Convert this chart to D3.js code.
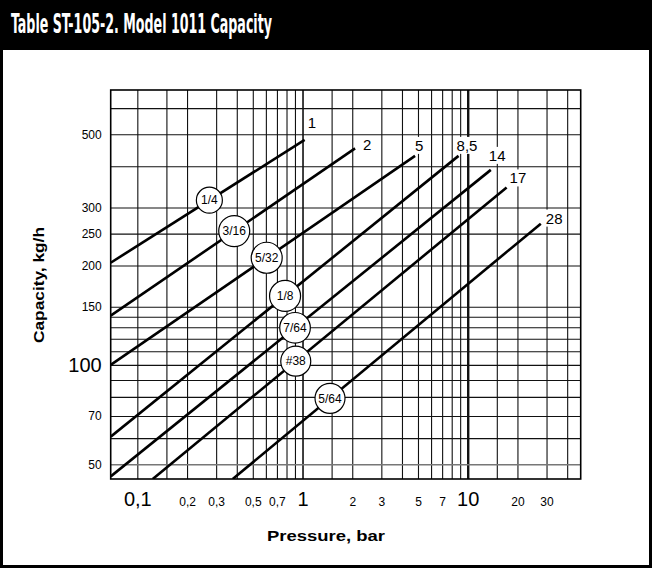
<!DOCTYPE html>
<html>
<head>
<meta charset="utf-8">
<script src="https://cdn.jsdelivr.net/npm/d3@7"></script>
<style>
    body { margin: 0; background: #fff; }
    svg text { font-family: "Liberation Sans", Arial, Helvetica, sans-serif; }
    .grid path, .axis path, .axis line { display: none; }
    .grid line { stroke: #111; stroke-width: 1.1; }
    .grid line.major { stroke-width: 2.4; }
    .grid line.mid { stroke-width: 1.6; }
    .grid line.soft { stroke: #777; stroke-width: 1.6; }
    .flow { fill: none; stroke: #000; stroke-width: 2.6; }
</style>
</head>
<body>
<div id="chart"></div>
<script>
// orifice sizes (badges) and max pressure (line end labels)
var sizes = ["1/4", "3/16", "5/32", "1/8", "7/64", "#38", "5/64"];
var maxPressure = ["1", "2", "5", "8,5", "14", "17", "28"];

// line endpoints (bar, kg/h)
var startPressure = [0.069, 0.069, 0.069, 0.069, 0.069, 0.124, 0.378];
var startCapacity = [204, 141, 100, 60.6, 45.9, 45.1, 45.1];
var endPressure = [1.03, 2.08, 4.8, 8.8, 13.8, 17.2, 27.7];
var endCapacity = [481, 453, 430, 430, 390, 345, 268];
// where the size badge sits along each line
var badgePressure = [0.273, 0.386, 0.607, 0.784, 0.901, 0.91, 1.467];

var xTicks = [0.1, 0.2, 0.3, 0.5, 0.7, 1, 2, 3, 5, 7, 10, 20, 30];
var xBigTicks = [0.1, 1, 10];
var yTicks = [50, 70, 100, 150, 200, 250, 300, 500];
var yBigTicks = [100];
var xGrid = [0.1, 0.15, 0.2, 0.3, 0.4, 0.5, 0.6, 0.7, 0.8, 0.9, 1, 1.5, 2, 3, 4, 5, 6, 7, 8, 9, 10, 15, 20, 30, 40];
var yGrid = [50, 60, 70, 80, 90, 100, 110, 120, 130, 140, 150, 200, 250, 300, 400, 500, 600];

// layout only: nudges for end labels, badge radius
var labelNudge = [[3, -12], [8, 2], [0, -5], [-2, -5], [-2, -9], [3, -4], [5, 0]];
var badgeR = [13, 15.5, 15.5, 15.5, 15.3, 15, 15];

var W = 652, H = 570;
var margin = {top: 90, left: 110.7},
    width = 470,
    height = 389;

var svg = d3.select("#chart").append("svg")
    .attr("width", W)
    .attr("height", H);

// frame + title bar
svg.append("rect")
    .attr("x", 0).attr("y", 0)
    .attr("width", W).attr("height", 50)
    .attr("fill", "#000");
svg.append("rect")
    .attr("x", 1.5).attr("y", 1.5)
    .attr("width", 649).attr("height", 565)
    .attr("fill", "none")
    .attr("stroke", "#000")
    .attr("stroke-width", 3);
svg.append("text")
    .attr("x", 11)
    .attr("y", 33)
    .attr("fill", "#fff")
    .attr("font-weight", "bold")
    .attr("font-size", 26)
    .attr("textLength", 261)
    .attr("lengthAdjust", "spacingAndGlyphs")
    .style("font-family", "'Liberation Sans Narrow', 'DejaVu Sans Condensed', Arial, sans-serif")
    .text("Table ST-105-2. Model 1011 Capacity");

var x = d3.scaleLog().domain([0.069, 48.3]).range([0, width]);
var y = d3.scaleLog().domain([45.1, 681]).range([height, 0]);

var g = svg.append("g")
    .attr("transform", "translate(" + margin.left + "," + margin.top + ")");

// grid
g.append("g")
    .attr("class", "grid grid--x")
    .attr("transform", "translate(0," + height + ")")
    .call(d3.axisBottom(x).tickValues(xGrid).tickSizeInner(-height).tickSizeOuter(0).tickFormat(""))
    .selectAll("line")
    .attr("class", function (d) {
        return d === 10 ? "major" : (d === 1 ? "mid" : null);
    });

g.append("g")
    .attr("class", "grid grid--y")
    .call(d3.axisLeft(y).tickValues(yGrid).tickSizeInner(-width).tickSizeOuter(0).tickFormat(""))
    .selectAll("line")
    .attr("class", function (d) {
        return d === 50 ? "soft" : null;
    });

g.append("rect")
    .attr("width", width)
    .attr("height", height)
    .attr("fill", "none")
    .attr("stroke", "#000")
    .attr("stroke-width", 1.6);

// tick labels
g.append("g")
    .attr("class", "axis axis--x")
    .attr("transform", "translate(0," + height + ")")
    .call(d3.axisBottom(x).tickValues(xTicks).tickSize(0).tickFormat(function (d) {
        return String(d).replace(".", ",");
    }))
    .selectAll("text")
    .attr("y", 27)
    .attr("dy", 0)
    .attr("fill", "#000")
    .attr("font-size", function (d) {
        return xBigTicks.indexOf(d) >= 0 ? 20 : 12;
    });

g.append("g")
    .attr("class", "axis axis--y")
    .call(d3.axisLeft(y).tickValues(yTicks).tickSize(0).tickPadding(9).tickFormat(d3.format("d")))
    .selectAll("text")
    .attr("fill", "#000")
    .attr("font-size", function (d) {
        return yBigTicks.indexOf(d) >= 0 ? 20 : 12;
    });

// capacity lines
g.append("clipPath")
    .attr("id", "plot-clip")
    .append("rect")
    .attr("width", width)
    .attr("height", height);

var line = d3.line()
    .x(function (d) {
        return x(d[0]);
    })
    .y(function (d) {
        return y(d[1]);
    });

var series = sizes.map(function (s, i) {
    return {
        size: s,
        label: maxPressure[i],
        points: [[startPressure[i], startCapacity[i]], [endPressure[i], endCapacity[i]]]
    };
});

g.append("g")
    .attr("clip-path", "url(#plot-clip)")
    .selectAll("path")
    .data(series)
    .enter().append("path")
    .attr("class", "flow")
    .attr("d", function (d) {
        return line(d.points);
    });

// end labels with white backing
var ends = g.append("g").selectAll("g")
    .data(series)
    .enter().append("g")
    .attr("transform", function (d, i) {
        var p = d.points[1];
        return "translate(" + (x(p[0]) + labelNudge[i][0]) + "," + (y(p[1]) + labelNudge[i][1]) + ")";
    });

ends.append("text")
    .attr("font-size", 15)
    .attr("fill", "#000")
    .text(function (d) {
        return d.label;
    });

ends.each(function () {
    var grp = d3.select(this);
    var bb = grp.select("text").node().getBBox();
    grp.insert("rect", "text")
        .attr("x", bb.x - 2)
        .attr("y", bb.y)
        .attr("width", bb.width + 4)
        .attr("height", bb.height)
        .attr("fill", "#fff");
});

// size badges on lines
var badges = g.append("g").selectAll("g")
    .data(series)
    .enter().append("g")
    .attr("transform", function (d, i) {
        var a = d.points[0], b = d.points[1];
        var t = (Math.log(badgePressure[i]) - Math.log(a[0])) / (Math.log(b[0]) - Math.log(a[0]));
        var c = Math.exp(Math.log(a[1]) + t * (Math.log(b[1]) - Math.log(a[1])));
        return "translate(" + x(badgePressure[i]) + "," + y(c) + ")";
    });

badges.append("circle")
    .attr("r", function (d, i) {
        return badgeR[i];
    })
    .attr("fill", "#fff")
    .attr("stroke", "#000")
    .attr("stroke-width", 1.2);

badges.append("text")
    .attr("text-anchor", "middle")
    .attr("dy", "0.35em")
    .attr("font-size", 12)
    .attr("fill", "#000")
    .text(function (d) {
        return d.size;
    });

// axis titles
svg.append("text")
    .attr("transform", "translate(44,285) rotate(-90)")
    .attr("text-anchor", "middle")
    .attr("font-weight", "bold")
    .attr("font-size", 15)
    .attr("textLength", 116)
    .attr("lengthAdjust", "spacingAndGlyphs")
    .text("Capacity, kg/h");

svg.append("text")
    .attr("x", 326)
    .attr("y", 541)
    .attr("text-anchor", "middle")
    .attr("font-weight", "bold")
    .attr("font-size", 15)
    .attr("textLength", 118)
    .attr("lengthAdjust", "spacingAndGlyphs")
    .text("Pressure, bar");
</script>
</body>
</html>
